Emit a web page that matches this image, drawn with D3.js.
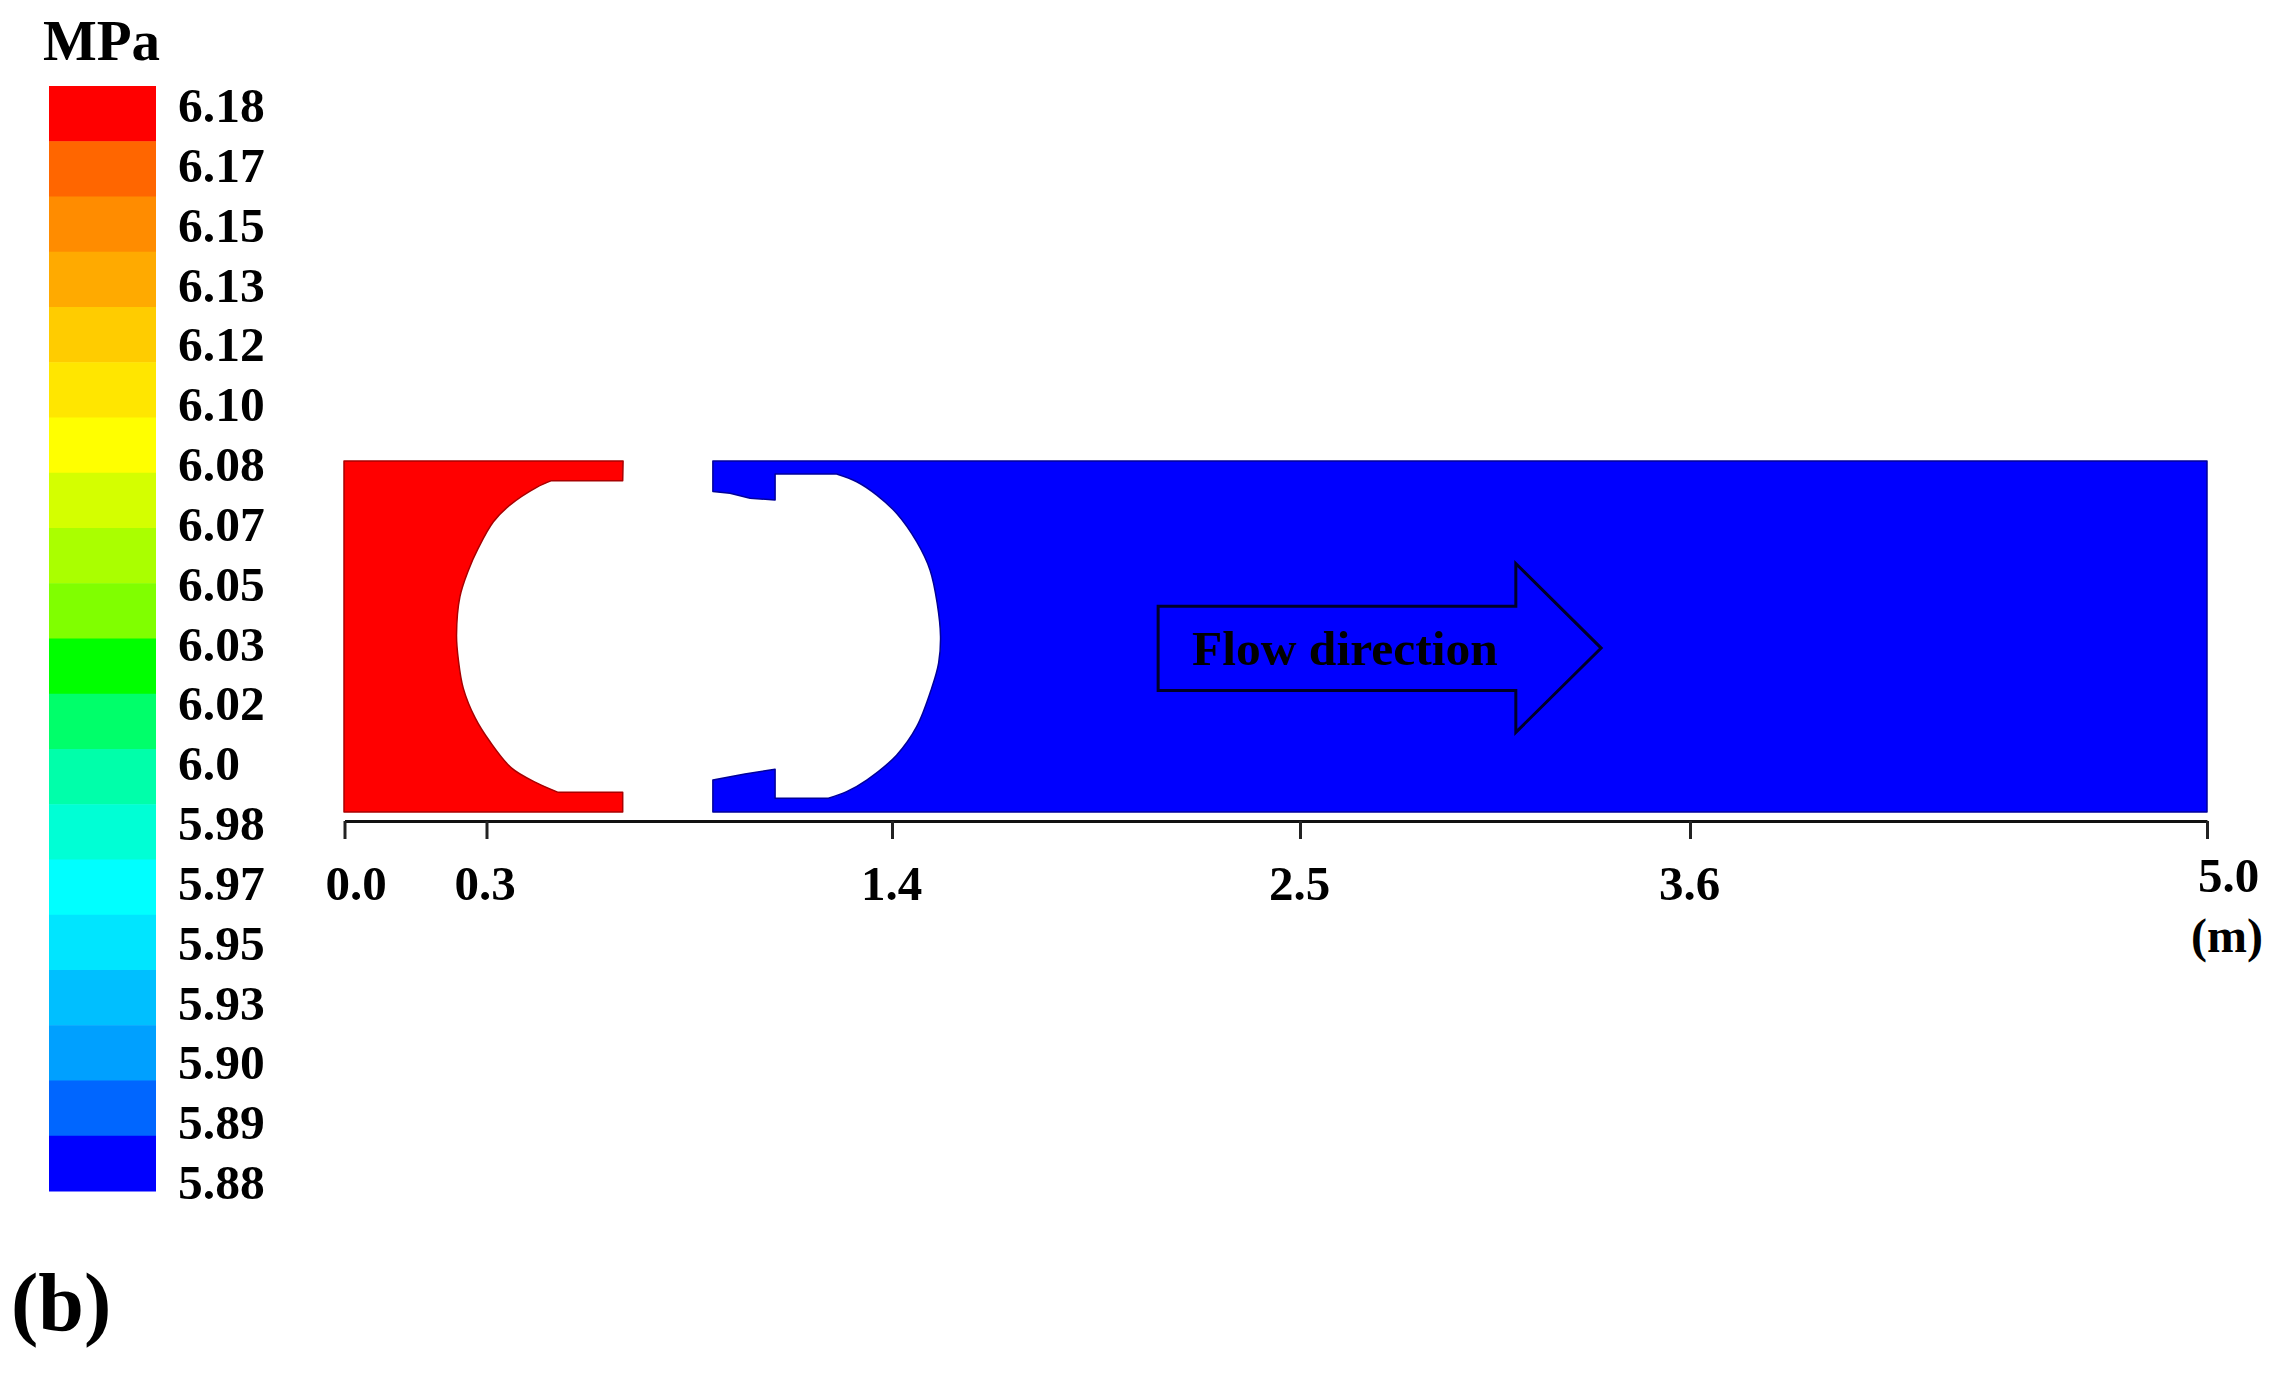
<!DOCTYPE html>
<html>
<head>
<meta charset="utf-8">
<script src="https://cdn.jsdelivr.net/npm/d3@7"></script>
<style>
  html, body { margin: 0; padding: 0; background: #fff; }
  text { font-family: "Liberation Serif", serif; font-weight: bold; fill: #000; }
</style>
</head>
<body>
<div id="chart"></div>
<script>
// legend values, top to bottom
const legendLabels = ['6.18','6.17','6.15','6.13','6.12','6.10','6.08','6.07','6.05','6.03','6.02','6.0','5.98','5.97','5.95','5.93','5.90','5.89','5.88'];
const legendColors = ['#ff0000','#ff6600','#ff8c00','#ffaa00','#ffcc00','#ffe600','#ffff00','#d4ff00','#aaff00','#80ff00','#00ff00','#00ff6a','#00ffaa','#00ffd5','#00ffff','#00e5ff','#00bfff','#00a0ff','#0066ff','#0000ff'];

// axis ticks (m) - spacing in the figure is not proportional
const tickValues = [0, 0.3, 1.4, 2.5, 3.6, 5];

// pressure on each side of the cavity (MPa)
const inletPressure = 6.18;
const outletPressure = 5.88;

// region outlines: position along pipe (m), fraction of pipe height from top
const inletX = [0, 0.749, 0.748, 0.557, 0.517, 0.446, 0.401, 0.360, 0.334, 0.311, 0.302, 0.307, 0.320, 0.352, 0.392, 0.450, 0.517, 0.575, 0.748, 0.748, 0];
const inletY = [0, 0, 0.056, 0.056, 0.075, 0.125, 0.173, 0.249, 0.311, 0.387, 0.496, 0.567, 0.647, 0.732, 0.800, 0.875, 0.917, 0.944, 0.944, 1, 1];
const outletX = [0.990, 0.990, 1.036, 1.090, 1.157, 1.157, 1.322, 1.376, 1.430, 1.483, 1.537, 1.573, 1.592, 1.601, 1.596, 1.577, 1.537, 1.483, 1.403, 1.349, 1.300, 1.157, 1.157, 1.076, 0.990, 0.990, 5, 5];
const outletY = [0, 0.087, 0.092, 0.106, 0.111, 0.037, 0.037, 0.059, 0.097, 0.149, 0.230, 0.311, 0.405, 0.500, 0.575, 0.648, 0.757, 0.838, 0.909, 0.942, 0.961, 0.961, 0.878, 0.892, 0.909, 1, 1, 0];

// flow arrow, same units
const arrowX = [2.185, 3.145, 3.145, 3.374, 3.145, 3.145, 2.185];
const arrowY = [0.414, 0.414, 0.292, 0.533, 0.773, 0.654, 0.654];

const width = 2275;
const height = 1373;

const svg = d3.select('#chart')
    .append('svg')
    .attr('width', width)
    .attr('height', height)
    .style('display', 'block');

// Scales
const xLength = d3.scaleLinear().domain([0, 5]).range([344, 2207]);
const yPipe = d3.scaleLinear().domain([0, 1]).range([461, 812]);
const xAxisScale = d3.scaleLinear().domain(tickValues).range([344.5, 486.5, 892, 1300, 1690, 2207]);
const pressureColor = d3.scaleQuantize()
    .domain([outletPressure, inletPressure])
    .range(legendColors.slice().reverse());
const legendBand = d3.scaleBand()
    .domain(legendColors)
    .range([86, 1191]);
const legendPoint = d3.scalePoint()
    .domain(legendLabels)
    .range([122, 1199]);

const outline = d3.line()
    .x(d => xLength(d[0]))
    .y(d => yPipe(d[1]));
const curvedOutline = d3.line()
    .x(d => xLength(d[0]))
    .y(d => yPipe(d[1]))
    .curve(d3.curveCatmullRom);

// straight edges, with the stretch from..to drawn as a smooth curve
function regionPath(xs, ys, from, to) {
    const pts = d3.zip(xs, ys);
    return outline(pts.slice(0, from + 1))
        + curvedOutline(pts.slice(from, to + 1)).replace('M', 'L')
        + outline(pts.slice(to)).replace('M', 'L')
        + 'Z';
}

// Legend
svg.append('text')
    .attr('x', 43)
    .attr('y', 60)
    .style('font-size', '57px')
    .text('MPa');

svg.selectAll('.legend-cell')
    .data(legendColors)
    .enter()
    .append('rect')
    .attr('class', 'legend-cell')
    .attr('x', 49)
    .attr('y', d => legendBand(d))
    .attr('width', 107)
    .attr('height', legendBand.bandwidth() + 0.5)
    .attr('fill', d => d);

svg.selectAll('.legend-label')
    .data(legendLabels)
    .enter()
    .append('text')
    .attr('class', 'legend-label')
    .attr('x', 178)
    .attr('y', d => legendPoint(d))
    .style('font-size', '49.5px')
    .text(d => d);

// Pressure field either side of the cavity
svg.append('path')
    .attr('d', regionPath(inletX, inletY, 3, 17))
    .attr('fill', pressureColor(inletPressure))
    .attr('stroke', '#a80000')
    .attr('stroke-width', 1.5)
    .attr('stroke-linejoin', 'round');

svg.append('path')
    .attr('d', regionPath(outletX, outletY, 6, 20))
    .attr('fill', pressureColor(outletPressure))
    .attr('stroke', '#00009a')
    .attr('stroke-width', 1.5)
    .attr('stroke-linejoin', 'round');

// Flow arrow
svg.append('path')
    .attr('d', outline(d3.zip(arrowX, arrowY)) + 'Z')
    .attr('fill', 'none')
    .attr('stroke', '#000028')
    .attr('stroke-width', 3);

svg.append('text')
    .attr('x', 1192)
    .attr('y', 665)
    .style('font-size', '49.5px')
    .text('Flow direction');

// Axis
const axis = svg.append('g')
    .attr('transform', 'translate(0,821)')
    .call(d3.axisBottom(xAxisScale)
        .tickValues(tickValues)
        .tickSize(18)
        .tickSizeOuter(0)
        .tickFormat(d3.format('.1f')));

axis.select('.domain').attr('stroke', '#111').attr('stroke-width', 3);
axis.selectAll('.tick line').attr('stroke', '#222').attr('stroke-width', 3);
axis.selectAll('.tick text')
    .attr('y', 79)
    .attr('dy', 0)
    .attr('dx', d => d === 0 ? 11 : (d === 5 ? 21 : (d === 0.3 ? -2 : -1)))
    .attr('transform', d => d === 5 ? 'translate(0,-8)' : null)
    .style('font-size', '49px')
    .style('font-family', '"Liberation Serif", serif')
    .style('font-weight', 'bold');

svg.append('text')
    .attr('x', 2227)
    .attr('y', 952)
    .attr('text-anchor', 'middle')
    .style('font-size', '48px')
    .text('(m)');

svg.append('text')
    .attr('x', 11)
    .attr('y', 1330)
    .style('font-size', '82px')
    .text('(b)');
</script>
</body>
</html>
